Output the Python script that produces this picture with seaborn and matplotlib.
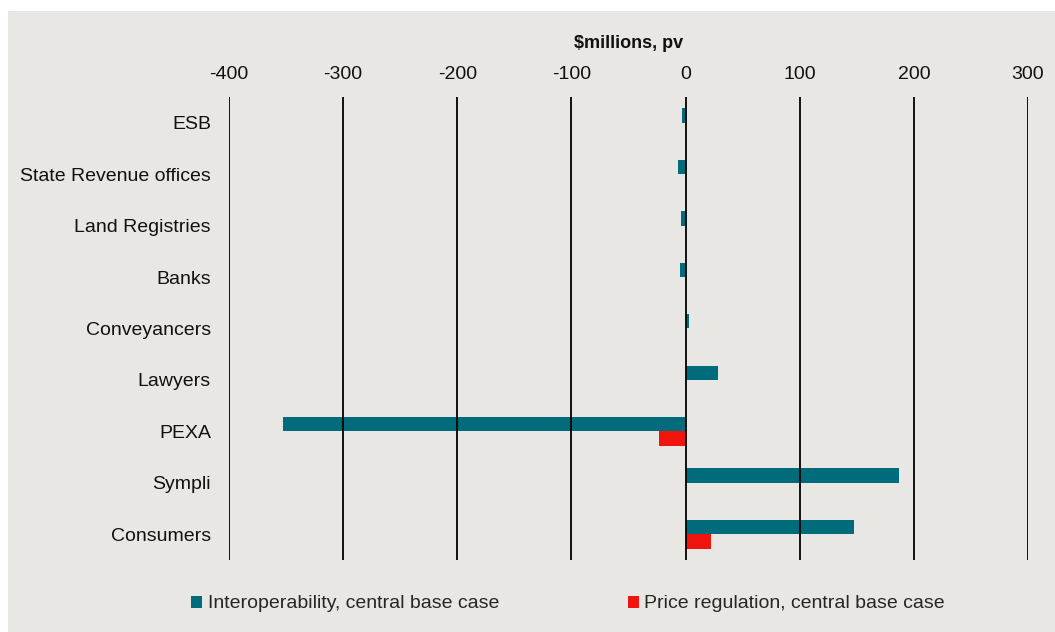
import numpy as np
import pandas as pd
import matplotlib
matplotlib.use("Agg")
import matplotlib.pyplot as plt
import seaborn as sns

categories = ["ESB", "State Revenue offices", "Land Registries", "Banks",
              "Conveyancers", "Lawyers", "PEXA", "Sympli", "Consumers"]
series_names = ["Interoperability, central base case", "Price regulation, central base case"]
interop = [-3, -6.5, -4, -5, 3, 28, -353, 187, 147.5]
price_reg = [np.nan, np.nan, np.nan, np.nan, np.nan, np.nan, -23, np.nan, 22.5]
xticks = [-400, -300, -200, -100, 0, 100, 200, 300]
axis_title = "$millions, pv"

colors = ["#006B7A", "#F0140C"]
bg = "#E8E7E3"

df = pd.DataFrame({
    "category": categories * 2,
    "series": [series_names[0]] * len(categories) + [series_names[1]] * len(categories),
    "value": interop + price_reg,
})

sns.set_theme(style="white")
plt.rcParams["font.family"] = ["Liberation Sans", "DejaVu Sans"]

fig = plt.figure(figsize=(10.55, 6.32), dpi=100)
fig.patch.set_facecolor("white")
fig.patches.append(plt.Rectangle((8 / 1055, 0), 1 - 8 / 1055, 1 - 11 / 632,
                                 transform=fig.transFigure, facecolor=bg,
                                 edgecolor="none", zorder=-10))
ax = fig.add_axes([229 / 1055, 1 - 560 / 632, (1028 - 229) / 1055, (560 - 97) / 632])
ax.set_facecolor(bg)

sns.barplot(data=df, y="category", x="value", hue="series", order=categories,
            hue_order=series_names, palette=colors, orient="h", width=0.56,
            saturation=1, ax=ax, errorbar=None, linewidth=0)

ax.set_xlim(-400, 300)
ax.set_ylim(8.5, -0.5)
ax.set_xticks(xticks)
ax.set_xticklabels([str(t) for t in xticks], fontsize=14, color="#111111")
ax.xaxis.tick_top()
ax.xaxis.set_label_position("top")
ax.set_xlabel(axis_title, fontsize=13, fontweight="bold", labelpad=13, color="#111111")
ax.set_ylabel("")
ax.tick_params(axis="y", labelsize=14, length=0, pad=13, colors="#111111")
ax.tick_params(axis="x", length=0, pad=10)
ax.grid(axis="x", color="black", linewidth=1.3)
ax.grid(axis="y", visible=False)
ax.set_axisbelow(False)
for s in ax.spines.values():
    s.set_visible(False)

handles, labels = ax.get_legend_handles_labels()
if ax.legend_ is not None:
    ax.legend_.remove()
fig.legend(handles, labels, loc="center", bbox_to_anchor=(568 / 1055, 1 - 604 / 632),
           ncol=2, frameon=False, fontsize=14, handlelength=0.57, handleheight=0.57,
           handletextpad=0.3, columnspacing=6.6)

fig.savefig("out.png", dpi=100, facecolor=fig.get_facecolor())
